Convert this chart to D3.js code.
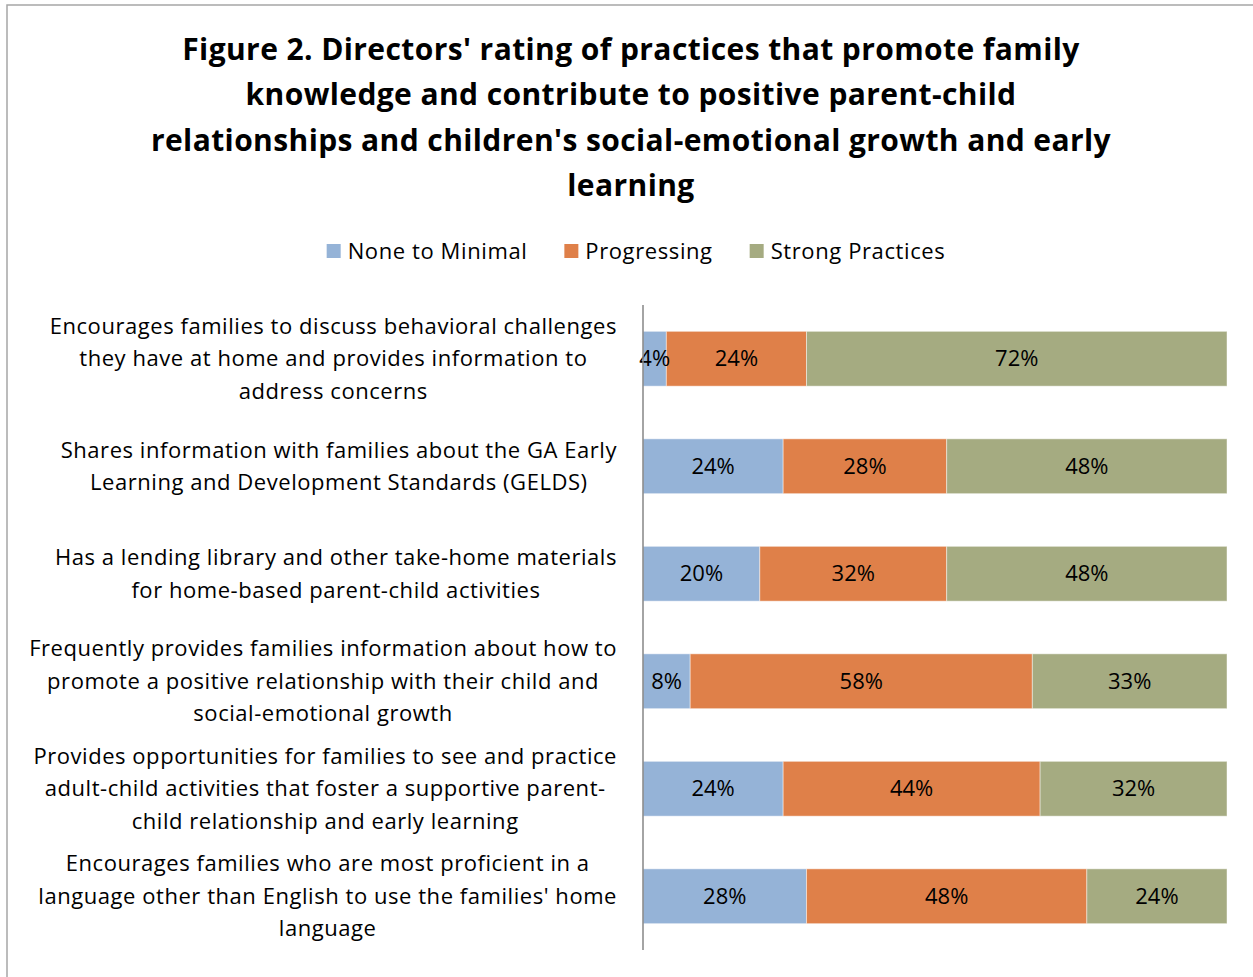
<!DOCTYPE html>
<html>
<head>
<meta charset="utf-8">
<script src="https://cdn.jsdelivr.net/npm/d3@7"></script>
<style>
  body { margin: 0; background: #fff; }
  svg text { font-family: "Open Sans", Lato, sans-serif; fill: #000; }
</style>
</head>
<body>
<svg id="chart"></svg>
<script>
const w = 1253;
const h = 977;

// data
const titleLines = [
  "Figure 2. Directors' rating of practices that promote family",
  "knowledge and contribute to positive parent-child",
  "relationships and children's social-emotional growth and early",
  "learning"
];
const seriesNames = ["None to Minimal", "Progressing", "Strong Practices"];
const seriesColors = ["#95b3d7", "#df8049", "#a5ab81"];
const categories = [
  ["Encourages families to discuss behavioral challenges", "they have at home and provides information to", "address concerns"],
  ["Shares information with families about the GA Early", "Learning and Development Standards (GELDS)"],
  ["Has a lending library and other take-home materials", "for home-based parent-child activities"],
  ["Frequently provides families information about how to", "promote a positive relationship with their child and", "social-emotional growth"],
  ["Provides opportunities for families to see and practice", "adult-child activities that foster a supportive parent-", "child relationship and early learning"],
  ["Encourages families who are most proficient in a", "language other than English to use the families' home", "language"]
];
const noneVals = [4, 24, 20, 8, 24, 28];
const progVals = [24, 28, 32, 58, 44, 48];
const strongVals = [72, 48, 48, 33, 32, 24];

const rows = categories.map((c, i) => ({
  id: i,
  [seriesNames[0]]: noneVals[i],
  [seriesNames[1]]: progVals[i],
  [seriesNames[2]]: strongVals[i]
}));

const svg = d3.select("#chart").attr("width", w).attr("height", h);

// outer frame
svg.append("rect").attr("x", 7).attr("y", 5).attr("width", 1260).attr("height", 1000)
  .attr("fill", "none").attr("stroke", "#a6a6a6").attr("stroke-width", 1.5);

// title
svg.append("g").selectAll("text").data(titleLines).enter().append("text")
  .attr("x", 631).attr("y", (d, i) => 60 + i * 45.3)
  .attr("text-anchor", "middle").attr("font-weight", "bold").attr("font-size", 30)
  .attr("letter-spacing", 0.4)
  .text(d => d);

// legend
const legend = svg.append("g");
let lx = 0;
seriesNames.forEach((s, i) => {
  const g = legend.append("g").attr("transform", `translate(${lx},0)`);
  g.append("rect").attr("x", 0).attr("y", 244).attr("width", 14).attr("height", 14).attr("fill", seriesColors[i]);
  const t = g.append("text").attr("x", 21).attr("y", 259).attr("font-size", 22)
    .attr("letter-spacing", 0.6).text(s);
  lx += 21 + t.node().getComputedTextLength() + 37;
});
legend.attr("transform", `translate(${636 - (lx - 37) / 2},0)`);

// scales
const x = d3.scaleLinear().domain([0, 1]).range([643, 1227]);
const y = d3.scaleBand().domain(rows.map(d => d.id)).range([305, 950])
  .paddingInner(0.49).paddingOuter(0.245);
const color = d3.scaleOrdinal().domain(seriesNames).range(seriesColors);

const stack = d3.stack().keys(seriesNames).offset(d3.stackOffsetExpand);
const stacked = stack(rows);

const layers = svg.append("g").selectAll("g").data(stacked).enter().append("g")
  .attr("fill", d => color(d.key));

layers.selectAll("rect").data(d => d).enter().append("rect")
  .attr("x", d => x(d[0]))
  .attr("y", d => y(d.data.id))
  .attr("width", d => x(d[1]) - x(d[0]))
  .attr("height", y.bandwidth())
  .attr("stroke", "rgba(255,255,255,0.45)").attr("stroke-width", 1);

// data labels
const labels = svg.append("g");
stacked.forEach(layer => {
  labels.selectAll(null).data(layer).enter().append("text")
    .attr("x", d => (x(d[0]) + x(d[1])) / 2)
    .attr("y", d => y(d.data.id) + y.bandwidth() / 2)
    .attr("dy", "0.35em")
    .attr("text-anchor", "middle").attr("font-size", 22)
    .text(d => d.data[layer.key] + "%");
});

// y axis line
svg.append("line").attr("x1", 643).attr("x2", 643).attr("y1", 305).attr("y2", 950)
  .attr("stroke", "#868686").attr("stroke-width", 1.5);

// category labels
const catG = svg.append("g");
categories.forEach((lines, i) => {
  const g = catG.append("g");
  const cy = y(i) + y.bandwidth() / 2;
  const lh = 32.5;
  const ts = lines.map((l, j) => g.append("text")
    .attr("y", cy + (j - (lines.length - 1) / 2) * lh)
    .attr("dy", "0.35em").attr("font-size", 22).attr("letter-spacing", 0.55)
    .attr("text-anchor", "middle").text(l));
  const maxW = d3.max(ts, t => t.node().getComputedTextLength());
  ts.forEach(t => t.attr("x", 617 - maxW / 2));
});
</script>
</body>
</html>
